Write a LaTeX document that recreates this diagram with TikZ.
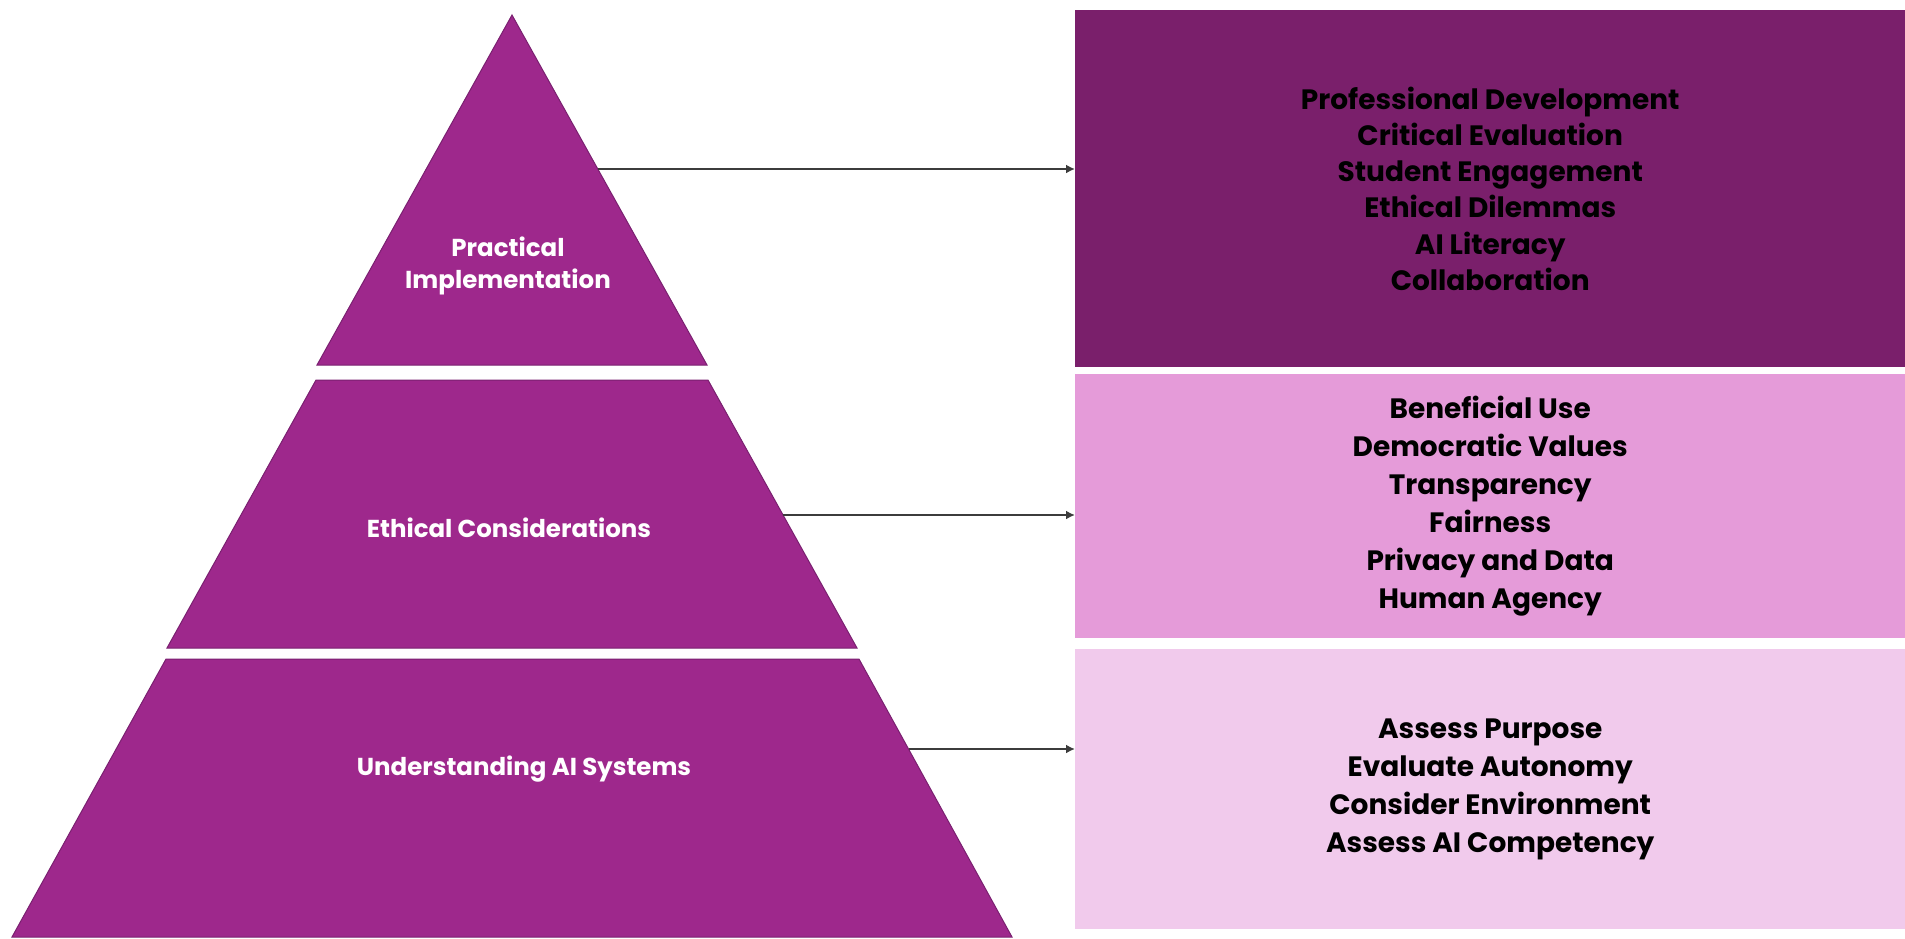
\documentclass[tikz,border=0pt]{standalone}
\usepackage{fontspec}
\setmainfont{Poppins}
\usetikzlibrary{arrows.meta}
\definecolor{pyr}{HTML}{9E288C}
\definecolor{pyredge}{HTML}{7A2070}
\definecolor{boxA}{HTML}{7A1F6B}
\definecolor{boxB}{HTML}{E59BD9}
\definecolor{boxC}{HTML}{F1CAEC}
\definecolor{arr}{HTML}{3C3C3C}
\tikzset{
  seg/.style={fill=pyr, draw=pyredge, line width=1pt},
  plabel/.style={text=white, font=\bfseries\fontsize{24.5}{32}\selectfont, align=center, inner sep=0pt},
  infobox/.style={draw=none, minimum width=830pt, anchor=north west, inner sep=0pt, align=center,
    font=\bfseries\fontsize{28}{38}\selectfont, text=black},
  conn/.style={draw=arr, line width=2.5pt, -{Latex[length=9pt,width=9pt]}}
}
\begin{document}
\begin{tikzpicture}[x=1pt,y=-1pt]
\useasboundingbox (0,0) rectangle (1905,938);
% pyramid segments
\path[seg] (512,15) -- (707,365) -- (317,365) -- cycle;
\path[seg] (316,380) -- (708,380) -- (857,648) -- (167,648) -- cycle;
\path[seg] (166,659) -- (859,659) -- (1012,937) -- (12,937) -- cycle;
% labels
\node[plabel] (l1) at (508,266) {Practical\\Implementation};
\node[plabel] (l2) at (509,528) {Ethical Considerations};
\node[plabel] (l3) at (524,769) {Understanding AI Systems};
% connector start points on the pyramid edge
\coordinate (s1) at (598,169);
\coordinate (s2) at (783,515);
\coordinate (s3) at (909,749);
% boxes
\node[infobox, fill=boxA, minimum height=357pt, font=\bfseries\fontsize{28}{36.2}\selectfont] (b1) at (1075,10)
  {Professional Development\\Critical Evaluation\\Student Engagement\\Ethical Dilemmas\\AI Literacy\\Collaboration};
\node[infobox, fill=boxB, minimum height=264pt] (b2) at (1075,374)
  {Beneficial Use\\Democratic Values\\Transparency\\Fairness\\Privacy and Data\\Human Agency};
\node[infobox, fill=boxC, minimum height=280pt] (b3) at (1075,649)
  {Assess Purpose\\Evaluate Autonomy\\Consider Environment\\Assess AI Competency};
% connectors
\draw[conn] (s1) -- (s1 -| b1.west);
\draw[conn] (s2) -- (s2 -| b2.west);
\draw[conn] (s3) -- (s3 -| b3.west);
\end{tikzpicture}
\end{document}
